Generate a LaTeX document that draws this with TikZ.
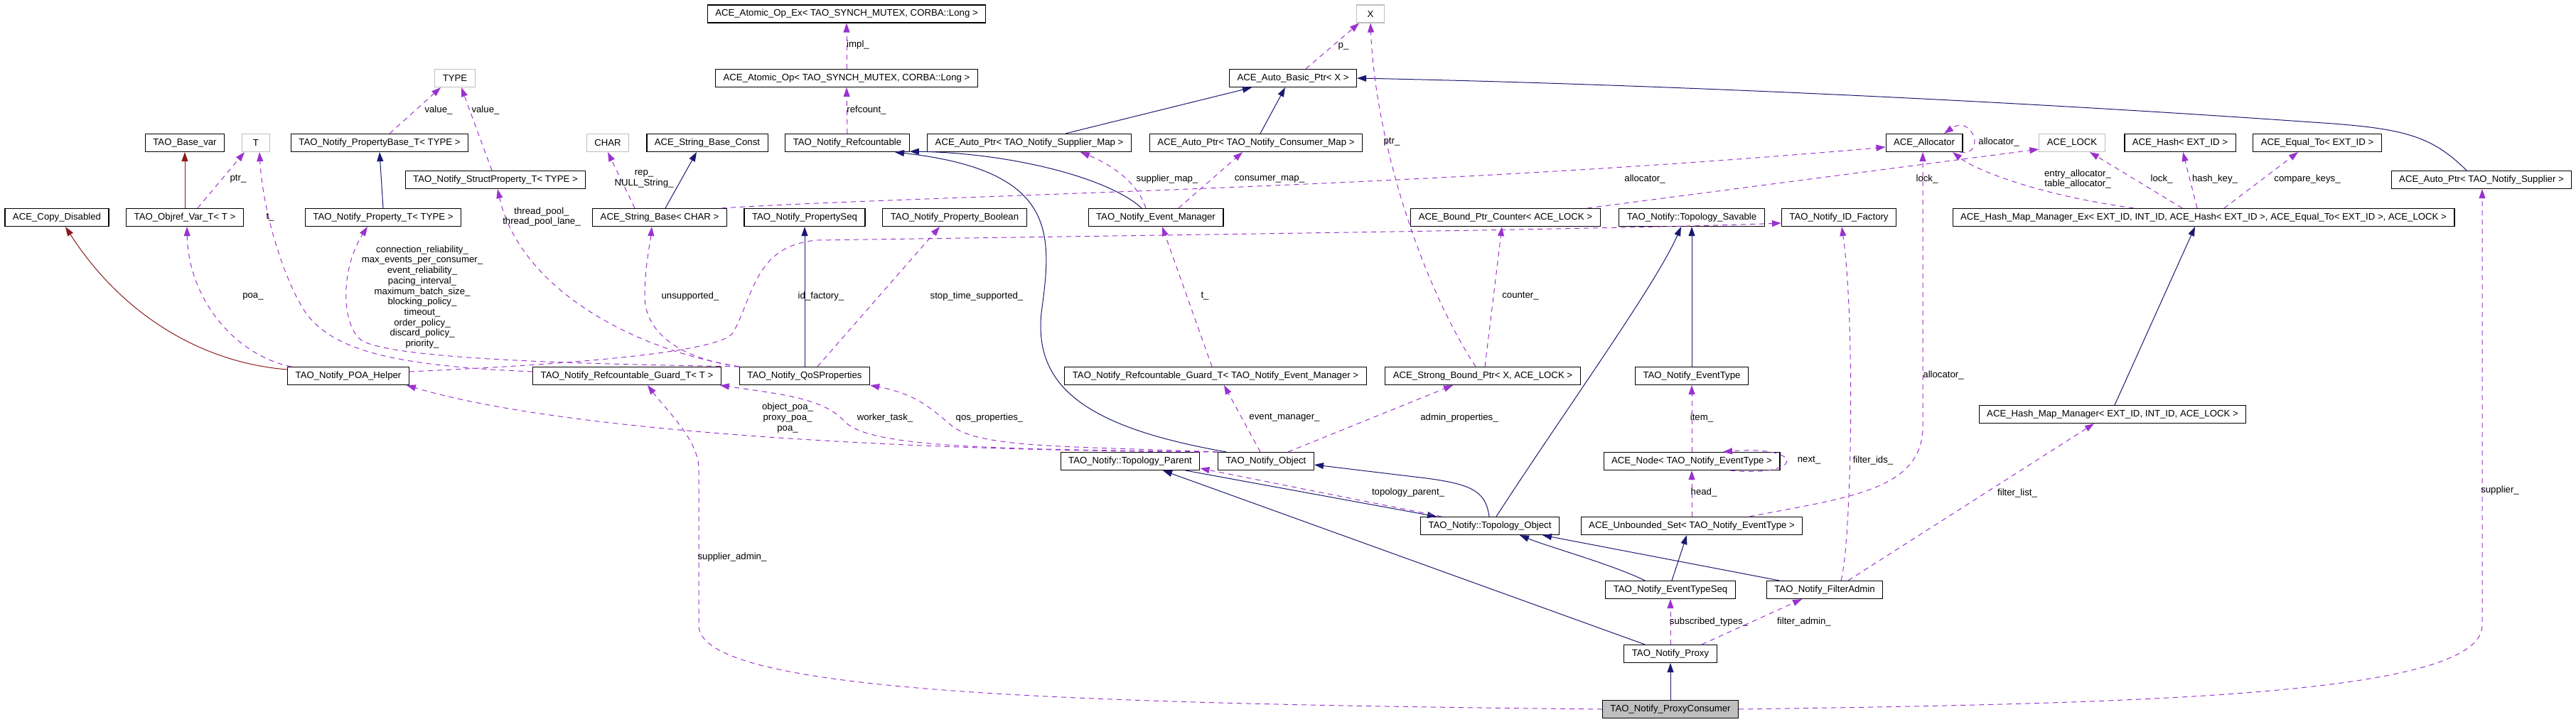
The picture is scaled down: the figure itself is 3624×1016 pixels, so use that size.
\documentclass[tikz,border=0pt]{standalone}
\usepackage{fontspec}
\setmainfont{Liberation Sans}
\usetikzlibrary{arrows.meta, calc}

\definecolor{inhblue}{HTML}{191970}
\definecolor{privred}{HTML}{8B1A1A}
\definecolor{usepurple}{HTML}{9A32CD}
\definecolor{extgray}{HTML}{BFBFBF}

\newcommand{\doxfont}{\fontsize{6.6pt}{7.35pt}\selectfont}

\tikzset{
  cls/.style={draw=black, fill=white, line width=0.6pt, inner xsep=5.5pt, inner ysep=0pt, minimum height=12.5pt, font=\doxfont},
  extcls/.style={cls, draw=extgray},
  selcls/.style={cls, fill=extgray},
  inherit/.style={draw=inhblue, line width=0.5pt, -{Triangle[length=6.5pt,width=4.5pt]}},
  privinherit/.style={inherit, draw=privred},
  member/.style={draw=usepurple, line width=0.5pt, dash pattern=on 3.5pt off 3pt, -{Triangle[length=6.5pt,width=4.5pt]}},
  lbl/.style={font=\doxfont, inner sep=0pt, align=center},
}

\begin{document}
\begin{tikzpicture}[x=0.5pt, y=-0.5pt]
        \useasboundingbox (0,0) rectangle (3624,1016);

        % classes, row by row
        \node[cls] (AtomicEx) at (1191,19.5) {ACE\_Atomic\_Op\_Ex< TAO\_SYNCH\_MUTEX, CORBA::Long >};
        \node[extcls, minimum width=19.5pt] (X) at (1928,19.5) {X};

        \node[extcls] (TYPE) at (640,110) {TYPE};
        \node[cls] (AtomicOp) at (1191,110) {ACE\_Atomic\_Op< TAO\_SYNCH\_MUTEX, CORBA::Long >};
        \node[cls] (AutoBasic) at (1819,110) {ACE\_Auto\_Basic\_Ptr< X >};

        \node[cls] (BaseVar) at (260,201) {TAO\_Base\_var};
        \node[extcls, minimum width=19.5pt] (T) at (360,201) {T};
        \node[cls] (PropBase) at (534,201) {TAO\_Notify\_PropertyBase\_T< TYPE >};
        \node[extcls] (CHAR) at (855,201) {CHAR};
        \node[cls] (StrConst) at (995,201) {ACE\_String\_Base\_Const};
        \node[cls] (Refcount) at (1192,201) {TAO\_Notify\_Refcountable};
        \node[cls] (AutoSup) at (1448,201) {ACE\_Auto\_Ptr< TAO\_Notify\_Supplier\_Map >};
        \node[cls] (AutoCon) at (1767,201) {ACE\_Auto\_Ptr< TAO\_Notify\_Consumer\_Map >};
        \node[cls] (Alloc) at (2707,201) {ACE\_Allocator};
        \node[extcls] (Lock) at (2915,201) {ACE\_LOCK};
        \node[cls] (Hash) at (3067,201) {ACE\_Hash< EXT\_ID >};
        \node[cls] (Equal) at (3260,201) {ACE\_Equal\_To< EXT\_ID >};

        \node[cls] (StructProp) at (697,253) {TAO\_Notify\_StructProperty\_T< TYPE >};
        \node[cls] (AutoSupplier) at (3491,253) {ACE\_Auto\_Ptr< TAO\_Notify\_Supplier >};

        \node[cls] (CopyDis) at (80,306) {ACE\_Copy\_Disabled};
        \node[cls] (Objref) at (260,306) {TAO\_Objref\_Var\_T< T >};
        \node[cls] (PropT) at (539,306) {TAO\_Notify\_Property\_T< TYPE >};
        \node[cls] (StrBase) at (928,306) {ACE\_String\_Base< CHAR >};
        \node[cls] (PropSeq) at (1132,306) {TAO\_Notify\_PropertySeq};
        \node[cls] (PropBool) at (1343,306) {TAO\_Notify\_Property\_Boolean};
        \node[cls] (EventMgr) at (1626,306) {TAO\_Notify\_Event\_Manager};
        \node[cls] (BoundCnt) at (2118,306) {ACE\_Bound\_Ptr\_Counter< ACE\_LOCK >};
        \node[cls] (Savable) at (2380,306) {TAO\_Notify::Topology\_Savable};
        \node[cls] (IdFact) at (2587,306) {TAO\_Notify\_ID\_Factory};
        \node[cls] (HashEx) at (3100,306) {ACE\_Hash\_Map\_Manager\_Ex< EXT\_ID, INT\_ID, ACE\_Hash< EXT\_ID >, ACE\_Equal\_To< EXT\_ID >, ACE\_LOCK >};

        \node[cls] (POA) at (490,529) {TAO\_Notify\_POA\_Helper};
        \node[cls] (GuardT) at (882,529) {TAO\_Notify\_Refcountable\_Guard\_T< T >};
        \node[cls] (QoS) at (1132,529) {TAO\_Notify\_QoSProperties};
        \node[cls] (GuardEM) at (1710,529) {TAO\_Notify\_Refcountable\_Guard\_T< TAO\_Notify\_Event\_Manager >};
        \node[cls] (Strong) at (2086,529) {ACE\_Strong\_Bound\_Ptr< X, ACE\_LOCK >};
        \node[cls] (EvType) at (2380,529) {TAO\_Notify\_EventType};
        \node[cls] (HashMgr) at (2972,583) {ACE\_Hash\_Map\_Manager< EXT\_ID, INT\_ID, ACE\_LOCK >};

        \node[cls] (TopoParent) at (1590,649) {TAO\_Notify::Topology\_Parent};
        \node[cls] (NObject) at (1781,649) {TAO\_Notify\_Object};
        \node[cls] (Node) at (2380,649) {ACE\_Node< TAO\_Notify\_EventType >};

        \node[cls] (TopoObject) at (2096,740) {TAO\_Notify::Topology\_Object};
        \node[cls] (USet) at (2380,740) {ACE\_Unbounded\_Set< TAO\_Notify\_EventType >};

        \node[cls] (EvTypeSeq) at (2350,830) {TAO\_Notify\_EventTypeSeq};
        \node[cls] (FilterAdmin) at (2567,830) {TAO\_Notify\_FilterAdmin};
        \node[cls] (Proxy) at (2350,920) {TAO\_Notify\_Proxy};
        \node[selcls] (ProxyConsumer) at (2350,998) {TAO\_Notify\_ProxyConsumer};

        % inheritance
        \draw[privinherit] (Objref.north) -- (BaseVar.south);
        \draw[privinherit] ($(POA.west)+(0,-9)$) .. controls (280,510) and (170,440) .. ($(CopyDis.south)+(12,0)$);
        \draw[inherit] (PropT.north) -- (PropBase.south);
        \draw[inherit] ($(StrBase.north)+(8,0)$) -- ($(StrConst.south)+(-15,0)$);
        \draw[inherit] (QoS.north) -- (PropSeq.south);
        \draw[inherit] ($(AutoSup.north)+(51,0)$) -- ($(AutoBasic.south)+(-58,0)$);
        \draw[inherit] ($(AutoCon.north)+(6,0)$) -- ($(AutoBasic.south)+(-11,0)$);
        \draw[inherit] ($(AutoSupplier.north)+(-21,0)$) .. controls (3420,190) and (3380,180) .. (3253,172)
            .. controls (2800,140) and (2300,118) .. (AutoBasic.east);
        \draw[inherit] ($(EventMgr.north)+(-20,0)$) .. controls (1560,250) and (1420,215) .. ($(Refcount.south east)+(0,-1)$);
        \draw[inherit] ($(NObject.north)+(-56,0)$) .. controls (1520,600) and (1455,540) .. (1465,440)
            .. controls (1480,330) and (1490,240) .. ($(Refcount.south)+(67,0)$);
        \draw[inherit] ($(HashMgr.north)+(3,0)$) -- ($(HashEx.south)+(-12,0)$);
        \draw[inherit] ($(TopoObject.north)+(9,0)$) .. controls (2200,580) and (2330,400) .. ($(Savable.south)+(-15,0)$);
        \draw[inherit] (EvType.north) -- (Savable.south);
        \draw[inherit] ($(TopoParent.south)+(78,0)$) -- ($(TopoObject.north)+(-75,0)$);
        \draw[inherit] ($(TopoObject.north)+(-1,0)$) .. controls (2090,690) and (2070,680) .. (1990,671) -- ($(NObject.east)+(0,5)$);
        \draw[inherit] ($(Proxy.north)+(-36,0)$) -- ($(TopoParent.south)+(46,0)$);
        \draw[inherit] ($(EvTypeSeq.north)+(-36,0)$) .. controls (2270,795) and (2180,770) .. ($(TopoObject.south)+(42,0)$);
        \draw[inherit] ($(EvTypeSeq.north)+(2,0)$) -- ($(USet.south)+(-7,0)$);
        \draw[inherit] ($(FilterAdmin.north)+(-64,0)$) -- ($(TopoObject.south)+(74,0)$);
        \draw[inherit] (ProxyConsumer.north) -- (Proxy.south);

        % members
        \draw[member] ($(PropBase.north)+(14,0)$) -- ($(TYPE.south)+(-20,0)$);
        \draw[member] ($(StructProp.north)+(-5,0)$) -- ($(TYPE.south)+(9,0)$);
        \draw[member] ($(Objref.north)+(18,0)$) -- ($(T.south)+(-16,0)$);
        \draw[member] ($(GuardT.west)+(0,-6)$) .. controls (560,515) and (470,495) .. (430,440)
            .. controls (400,395) and (370,300) .. ($(T.south)+(5,0)$);
        \draw[member] ($(POA.north)+(-80,0)$) .. controls (330,500) and (265,420) .. ($(Objref.south)+(3,0)$);
        \draw[member] (QoS.north west) .. controls (800,512) and (560,505) .. (510,480)
            .. controls (480,460) and (478,380) .. ($(PropT.south)+(-22,0)$);
        \draw[member] (QoS.north west) .. controls (880,490) and (730,400) .. ($(StructProp.south)+(3,0)$);
        \draw[member] (QoS.north west) .. controls (960,505) and (905,470) .. (907,413)
            .. controls (908,370) and (915,340) .. ($(StrBase.south)+(-11,0)$);
        \draw[member] ($(POA.east)+(0,-6)$) .. controls (750,515) and (1000,500) .. (1030,470)
            .. controls (1060,420) and (1060,345) .. (1150,338)
            .. controls (1700,330) and (2300,322) .. ($(IdFact.west)+(0,8)$);
        \draw[member] ($(QoS.north)+(18,0)$) -- ($(PropBool.south)+(-21,0)$);
        \draw[member] (Refcount.north) -- (AtomicOp.south);
        \draw[member] (AtomicOp.north) -- (AtomicEx.south);
        \draw[member] ($(EventMgr.north)+(-14,0)$) .. controls (1600,255) and (1560,230) .. ($(AutoSup.south)+(72,0)$);
        \draw[member] ($(EventMgr.north)+(32,0)$) -- ($(AutoCon.south)+(-19,0)$);
        \draw[member] ($(AutoBasic.north)+(18,0)$) -- ($(X.south)+(-16,0)$);
        \draw[member] ($(Strong.north)+(-10,0)$) .. controls (2000,400) and (1935,200) .. (X.south);
        \draw[member] ($(Strong.north)+(3,0)$) -- ($(BoundCnt.south)+(-5,0)$);
        \draw[member] ($(BoundCnt.north)+(115,0)$) -- ($(Lock.west)+(0,9)$);
        \draw[member] ($(StrBase.north)+(87,0)$) .. controls (1300,275) and (2000,265) .. ($(Alloc.west)+(0,6)$);
        \draw[member] ($(StrBase.north)+(-35,0)$) -- (CHAR.south);
        \draw[member] ($(Alloc.south east)+(-4,0)$) .. controls (2795,220) and (2775,160) .. ($(Alloc.north)+(28,0)$);
        \draw[member] ($(HashEx.north)+(-98,0)$) .. controls (2870,275) and (2780,240) .. ($(Alloc.south)+(40,0)$);
        \draw[member] ($(HashEx.north)+(-30,0)$) -- ($(Lock.south)+(25,0)$);
        \draw[member] ($(HashEx.north)+(-9,0)$) -- ($(Hash.south)+(4,0)$);
        \draw[member] ($(HashEx.north)+(29,0)$) -- ($(Equal.south)+(-27,0)$);
        \draw[member] (ProxyConsumer.east) .. controls (3000,990) and (3492,980) .. (3492,880) -- ($(AutoSupplier.south)+(1,0)$);
        \draw[member] (ProxyConsumer.west) .. controls (1500,990) and (983,975) .. (983,880) -- (983,660)
            .. controls (983,620) and (940,580) .. ($(GuardT.south)+(29,0)$);
        \draw[member] (NObject.north west) .. controls (1300,635) and (800,610) .. ($(POA.south east)+(-4,0)$);
        \draw[member] (NObject.north west) .. controls (1400,632) and (1230,630) .. (1190,595)
            .. controls (1160,560) and (1100,555) .. ($(GuardT.south east)+(-2,0)$);
        \draw[member] (NObject.north west) .. controls (1500,628) and (1380,630) .. (1340,600)
            .. controls (1310,575) and (1290,555) .. (QoS.south east);
        \draw[member] ($(NObject.north)+(-8,0)$) -- ($(GuardEM.south)+(12,0)$);
        \draw[member] ($(NObject.north)+(31,0)$) -- ($(Strong.south)+(-42,0)$);
        \draw[member] ($(GuardEM.north)+(-5,0)$) -- ($(EventMgr.south)+(9,0)$);
        \draw[member] (Node.north) -- (EvType.south);
        \draw[member] (USet.north) -- (Node.south);
        \draw[member] ($(Node.south)+(54,0)$) .. controls (2540,672) and (2540,626) .. ($(Node.north)+(44,0)$);
        \draw[member] ($(USet.north)+(81,0)$) .. controls (2600,700) and (2705,690) .. (2705,600) -- ($(Alloc.south)+(-2,0)$);
        \draw[member] ($(FilterAdmin.north)+(23,0)$) .. controls (2605,760) and (2610,450) .. ($(IdFact.south)+(4,0)$);
        \draw[member] ($(FilterAdmin.north)+(33,0)$) -- ($(HashMgr.south)+(-26,0)$);
        \draw[member] ($(TopoObject.north)+(-68,0)$) -- ($(TopoParent.east)+(0,10)$);
        \draw[member] (Proxy.north) -- (EvTypeSeq.south);
        \draw[member] ($(Proxy.north)+(44,0)$) -- ($(FilterAdmin.south)+(-32,0)$);

        % member names
        \node[lbl] (lValA) at (617,155) {value\_};
        \node[lbl] (lValB) at (683,155) {value\_};
        \node[lbl] (lPtrT) at (335,252) {ptr\_};
        \node[lbl] (lTT) at (380,306) {t\_};
        \node[lbl] (lThread) at (762,305) {thread\_pool\_\\thread\_pool\_lane\_};
        \node[lbl] (lRep) at (906,252) {rep\_\\NULL\_String\_};
        \node[lbl] (lImpl) at (1207,63) {impl\_};
        \node[lbl] (lRefc) at (1219,155) {refcount\_};
        \node[lbl] (lSupMap) at (1642,252) {supplier\_map\_};
        \node[lbl] (lConMap) at (1786,252) {consumer\_map\_};
        \node[lbl] (lP) at (1890,65) {p\_};
        \node[lbl] (lPtrX) at (1958,200) {ptr\_};
        \node[lbl] (lAllocS) at (2314,252) {allocator\_};
        \node[lbl] (lLockB) at (2711,252) {lock\_};
        \node[lbl] (lAllocSelf) at (2812,200) {allocator\_};
        \node[lbl] (lEntry) at (2923,252) {entry\_allocator\_\\table\_allocator\_};
        \node[lbl] (lLockH) at (3041,252) {lock\_};
        \node[lbl] (lHashKey) at (3116,252) {hash\_key\_};
        \node[lbl] (lCompare) at (3246,252) {compare\_keys\_};
        \node[lbl] (lQos) at (594,418) {connection\_reliability\_\\max\_events\_per\_consumer\_\\event\_reliability\_\\pacing\_interval\_\\maximum\_batch\_size\_\\blocking\_policy\_\\timeout\_\\order\_policy\_\\discard\_policy\_\\priority\_};
        \node[lbl] (lPoa) at (356,417) {poa\_};
        \node[lbl] (lUnsup) at (971,417) {unsupported\_};
        \node[lbl] (lIdFac) at (1155,417) {id\_factory\_};
        \node[lbl] (lStop) at (1374,417) {stop\_time\_supported\_};
        \node[lbl] (lTEM) at (1695,417) {t\_};
        \node[lbl] (lCounter) at (2139,417) {counter\_};
        \node[lbl] (lPoas) at (1108,588) {object\_poa\_\\proxy\_poa\_\\poa\_};
        \node[lbl] (lWorker) at (1245,588) {worker\_task\_};
        \node[lbl] (lQosP) at (1392,588) {qos\_properties\_};
        \node[lbl] (lEvMgr) at (1807,588) {event\_manager\_};
        \node[lbl] (lAdmin) at (2053,588) {admin\_properties\_};
        \node[lbl] (lItem) at (2394,588) {item\_};
        \node[lbl] (lAllocU) at (2734,528) {allocator\_};
        \node[lbl] (lNext) at (2545,648) {next\_};
        \node[lbl] (lFids) at (2635,648) {filter\_ids\_};
        \node[lbl] (lTopoP) at (1981,693) {topology\_parent\_};
        \node[lbl] (lHead) at (2397,693) {head\_};
        \node[lbl] (lFlist) at (2838,694) {filter\_list\_};
        \node[lbl] (lSupplier) at (3517,690) {supplier\_};
        \node[lbl] (lSupAdm) at (1030,784) {supplier\_admin\_};
        \node[lbl] (lSubs) at (2404,875) {subscribed\_types\_};
        \node[lbl] (lFadm) at (2538,875) {filter\_admin\_};
    \end{tikzpicture}
\end{document}
